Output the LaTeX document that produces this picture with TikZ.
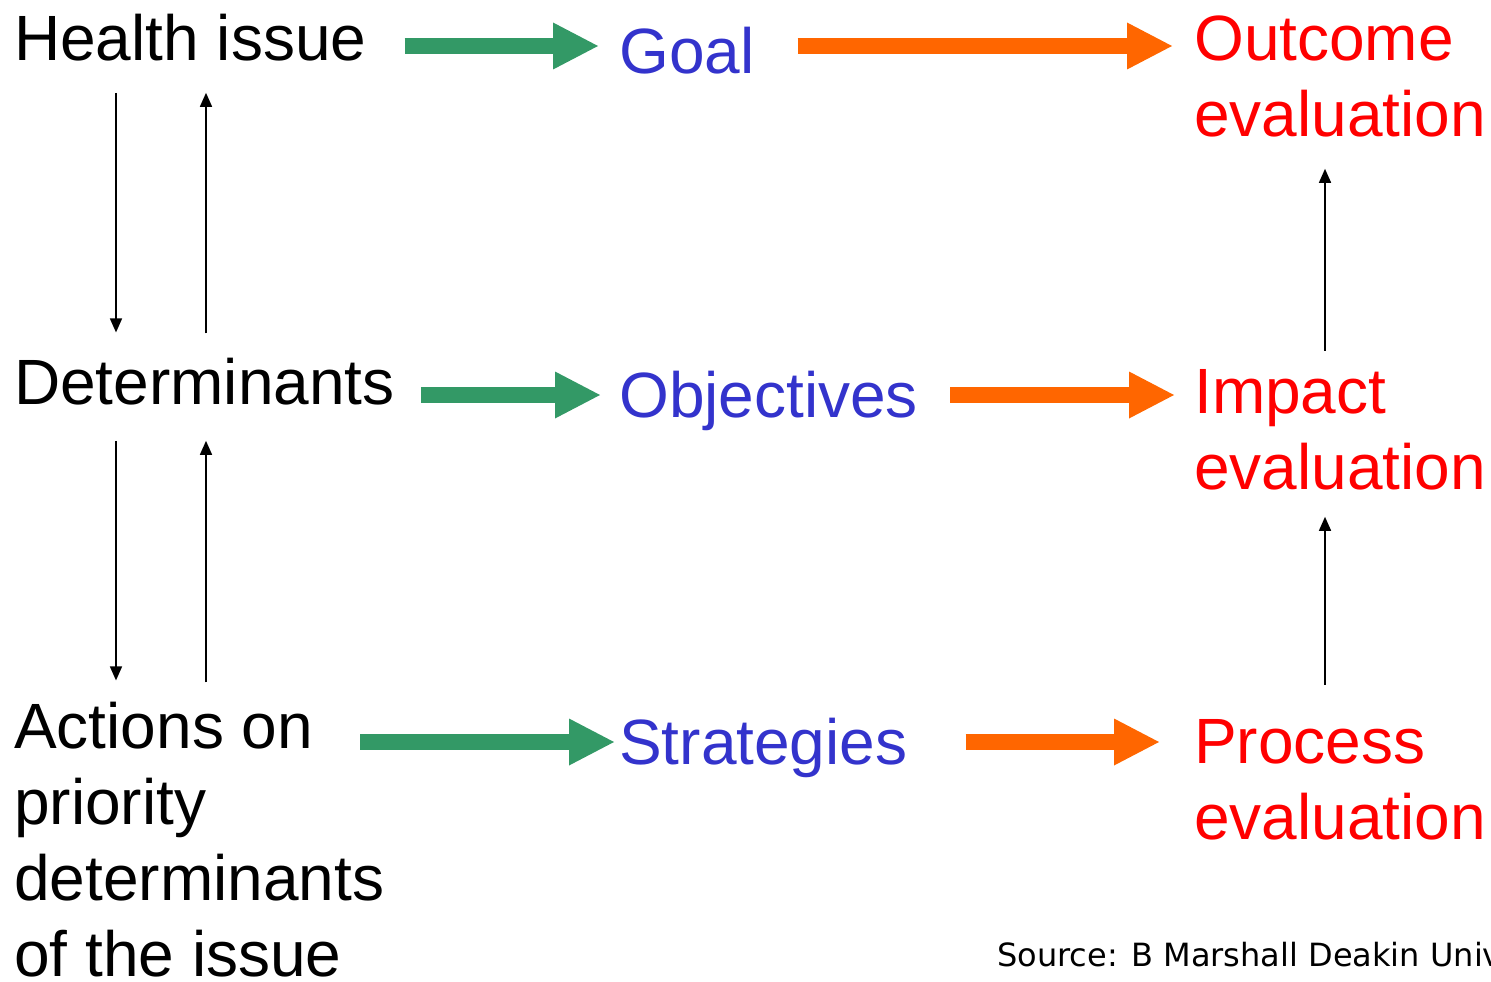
\documentclass[tikz,border=0pt]{standalone}
\usepackage{fontspec}
\setmainfont{Liberation Sans}
\newfontfamily\srcfont{DejaVu Sans}
\usetikzlibrary{arrows.meta}

\begin{document}
\begin{tikzpicture}[x=1pt,y=-1pt,
    txt/.style={anchor=base west,inner sep=0,align=left,font=\fontsize{64}{76}\selectfont},
    fat/.style={line width=16pt,-{Triangle[length=45pt,width=47pt,line width=0pt]}},
    thinarr/.style={line width=1.6pt,-{Triangle[length=14pt,width=12pt]}}]
    \definecolor{grn}{HTML}{339966}
    \definecolor{orng}{HTML}{FF6600}
    \definecolor{blu}{HTML}{3333CC}
    \definecolor{rd}{HTML}{FF0000}

    \useasboundingbox (0,0) rectangle (1491,982);

    % base anchor = baseline of the last line
    \node[txt] (health) at (14,60) {Health issue};
    \node[txt] (determ) at (14,404) {Determinants};
    \node[txt] (actions) at (14,976) {Actions on\\priority\\determinants\\of the issue};

    \node[txt,blu] (goal) at (619,74) {Goal};
    \node[txt,blu] (objectives) at (619,417) {Objectives};
    \node[txt,blu] (strategies) at (619,764) {Strategies};

    \node[txt,rd] (outcome) at (1194,136) {Outcome\\evaluation};
    \node[txt,rd] (impact) at (1194,489) {Impact\\evaluation};
    \node[txt,rd] (process) at (1194,839) {Process\\evaluation};

    \node[anchor=base west,inner sep=0,font=\srcfont\fontsize{32}{38}\selectfont] (source) at (997,966) {Source: B Marshall Deakin Univ};

    \coordinate (r1) at (0,46);
    \coordinate (r2) at (0,395);
    \coordinate (r3) at (0,742);
    \coordinate (dn) at (116,0);
    \coordinate (up) at (206,0);
    \coordinate (rt) at (1325,0);

    \draw[fat,grn,shorten <=38pt,shorten >=21pt] (health.east |- r1) -- (goal.west |- r1);
    \draw[fat,grn,shorten <=26pt,shorten >=19pt] (determ.east |- r2) -- (objectives.west |- r2);
    \draw[fat,grn,shorten <=-24pt,shorten >=5pt] (actions.east |- r3) -- (strategies.west |- r3);

    \draw[fat,orng,shorten <=43pt,shorten >=22pt] (goal.east |- r1) -- (outcome.west |- r1);
    \draw[fat,orng,shorten <=32pt,shorten >=20pt] (objectives.east |- r2) -- (impact.west |- r2);
    \draw[fat,orng,shorten <=58pt,shorten >=35pt] (strategies.east |- r3) -- (process.west |- r3);

    \draw[thinarr,shorten <=32pt,shorten >=25pt] (health.south -| dn) -- (determ.north -| dn);
    \draw[thinarr,shorten <=24pt,shorten >=32pt] (determ.north -| up) -- (health.south -| up);
    \draw[thinarr,shorten <=36pt,shorten >=21pt] (determ.south -| dn) -- (actions.north -| dn);
    \draw[thinarr,shorten <=19pt,shorten >=36pt] (actions.north -| up) -- (determ.south -| up);

    \draw[thinarr,shorten <=34pt,shorten >=27pt] (process.north -| rt) -- (impact.south -| rt);
    \draw[thinarr,shorten <=18pt,shorten >=32pt] (impact.north -| rt) -- (outcome.south -| rt);
\end{tikzpicture}
\end{document}
